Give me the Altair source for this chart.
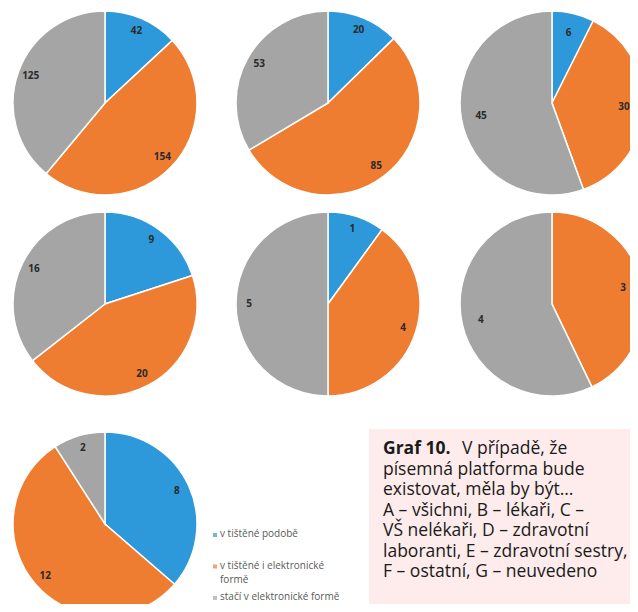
import altair as alt
import pandas as pd

# ---- data ----
groups = ["A", "B", "C", "D", "E", "F", "G"]
categories = ["v tištěné podobě", "v tištěné i elektronické formě", "stačí v elektronické formě"]
v_tistene = [42, 20, 6, 9, 1, 0, 8]
v_obou = [154, 85, 30, 20, 4, 3, 12]
elektronicky = [125, 53, 45, 16, 5, 4, 2]
colors = ["#2D98DA", "#EE7D31", "#A5A5A5"]

caption_bold = "Graf 10."
caption_first = "V případě, že"
caption_lines = [
    "písemná platforma bude",
    "existovat, měla by být…",
    "A – všichni, B – lékaři, C –",
    "VŠ nelékaři, D – zdravotní",
    "laboranti, E – zdravotní sestry,",
    "F – ostatní, G – neuvedeno",
]

rows = []
for gi, g in enumerate(groups):
    for ci, (c, vals) in enumerate(zip(categories, [v_tistene, v_obou, elektronicky])):
        rows.append({"group": g, "category": c, "order": ci, "value": vals[gi]})
df = pd.DataFrame(rows)

# layout (chart pixel coordinates of pie centres)
col_x = [97, 320, 544]
row_y = [95, 296, 516]
R = 92
label_r = [79, 79, 72, 79, 79, 73, 79]

color_scale = alt.Scale(domain=categories, range=colors)

base = (
    alt.Chart(df)
    .transform_joinaggregate(total="sum(value)", groupby=["group"])
    .transform_window(cum="sum(value)", groupby=["group"], sort=[alt.SortField("order")], frame=[None, 0])
    .transform_calculate(
        t0="2*PI*(datum.cum-datum.value)/datum.total",
        t1="2*PI*datum.cum/datum.total",
    )
    .transform_calculate(tm="(datum.t0+datum.t1)/2")
)

layers = []
for gi, g in enumerate(groups):
    cx = col_x[gi % 3]
    cy = row_y[gi // 3]
    sub = base.transform_filter(alt.datum.group == g).transform_filter(alt.datum.value > 0)
    arc = sub.mark_arc(radius=R, stroke="white", strokeWidth=1.5, clip=True).encode(
        theta=alt.Theta("t0:Q", scale=None),
        theta2="t1:Q",
        color=alt.Color("category:N", scale=color_scale, legend=None),
        x=alt.value(cx),
        y=alt.value(cy),
    )
    txt = sub.mark_text(
        radius=label_r[gi], font="Open Sans", fontSize=10, fontWeight="bold", color="#2a2a2a",
        align="center", baseline="middle", clip=True,
    ).encode(
        theta=alt.Theta("tm:Q", scale=None),
        text=alt.Text("value:Q"),
        x=alt.value(cx),
        y=alt.value(cy),
    )
    layers += [arc, txt]

# legend
legend_df = pd.DataFrame({"category": categories, "idx": [0, 1, 2]})
leg_y = alt.Y("idx:Q", scale=alt.Scale(domain=[0, 2], range=[527, 590]), axis=None)
leg_sq = alt.Chart(legend_df).mark_square(size=16).encode(
    x=alt.value(207),
    y=leg_y,
    color=alt.Color("category:N", scale=color_scale, legend=None),
)
leg_txt = (
    alt.Chart(legend_df)
    .transform_calculate(label="replace(datum.category, 'i elektronické ', 'i elektronické\\n')")
    .mark_text(align="left", baseline="top", dy=-6, font="Open Sans", fontSize=10,
               color="#595959", lineBreak="\n", lineHeight=14)
    .encode(x=alt.value(212), y=leg_y, text="label:N")
)
layers += [leg_sq, leg_txt]

# caption box
one = pd.DataFrame({"a": [0]})
box = alt.Chart(one).mark_rect(color="#FDECEB").encode(
    x=alt.value(361), x2=alt.value(622), y=alt.value(421), y2=alt.value(596)
)
FS = 17.5
cap_b = alt.Chart(one).mark_text(align="left", baseline="alphabetic", font="Open Sans",
                                 fontSize=FS, fontWeight="bold", color="#1a1a1a").encode(
    x=alt.value(375), y=alt.value(446), text=alt.value(caption_bold)
)
cap_1 = alt.Chart(one).mark_text(align="left", baseline="alphabetic", font="Open Sans",
                                 fontSize=FS, color="#1a1a1a").encode(
    x=alt.value(454), y=alt.value(446), text=alt.value(caption_first)
)
cap_rest = alt.Chart(one).mark_text(align="left", baseline="alphabetic", font="Open Sans",
                                    fontSize=FS, color="#1a1a1a", lineHeight=20.5).encode(
    x=alt.value(375), y=alt.value(466.5), text=alt.value(caption_lines)
)
layers += [box, cap_b, cap_1, cap_rest]

chart = (
    alt.layer(*layers)
    .properties(width=622, height=596, padding=0, autosize=alt.AutoSizeParams(type="none"))
    .configure_view(stroke=None)
)

chart.save("out.html", embed_options={"renderer": "svg", "actions": False})
